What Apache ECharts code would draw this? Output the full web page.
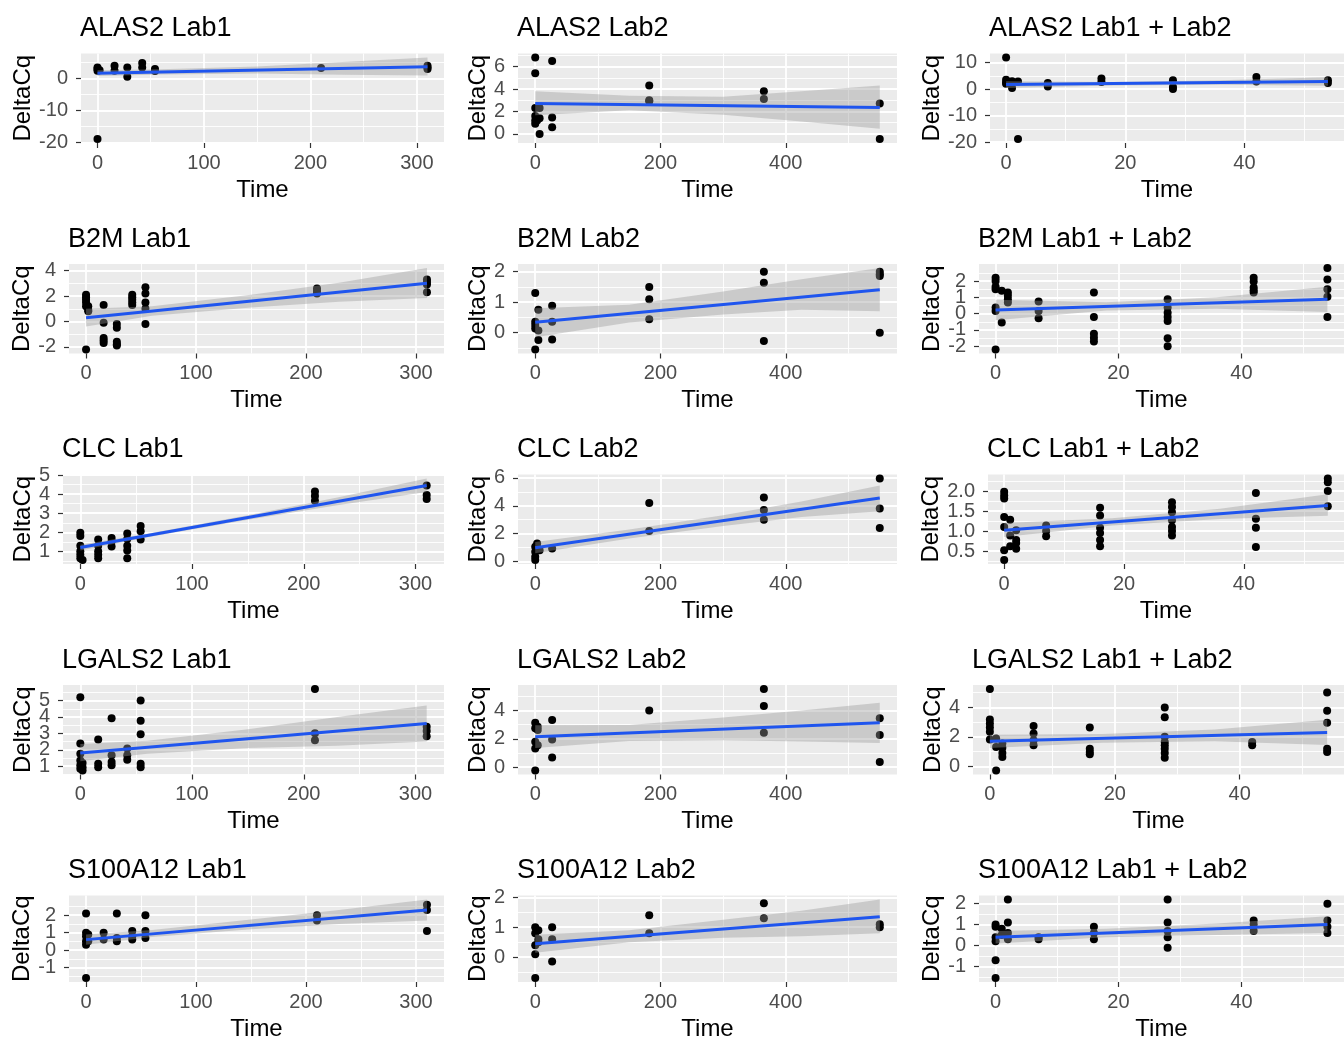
<!DOCTYPE html>
<html><head><meta charset="utf-8">
<script src="https://cdn.jsdelivr.net/npm/echarts@6/dist/echarts.min.js"></script>
<style>html,body{margin:0;padding:0;background:#fff}#c{width:1344px;height:1042px}</style>
</head><body><div id="c"></div>
<script>
// ---------- DATA ----------
const xTicksLab1 = [0, 100, 200, 300];
const xTicksLab2 = [0, 200, 400];
const xTicksBoth = [0, 20, 40];

const ptsALAS2Lab1 = [[0,3.5],[0,2.5],[0,3.0],[0,-18.9],[2,2.6],[16,4.0],[16,2.5],[28,3.5],[28,0.6],[42,4.9],[42,3.5],[54,3.0],[54,2.4],[210,3.3],[310,4.0],[310,3.5],[310,3.0]];
const fitALAS2Lab1 = [[0,1.7],[310,3.7]];
const bandALAS2Lab1 = [[0,0.8,2.6],[60,1.3,2.9],[150,1.6,3.8],[230,1.2,5.2],[310,1.0,6.6]];

const ptsALAS2Lab2 = [[0,6.8],[0,5.4],[0,2.3],[0,1.6],[0,1.2],[0,0.9],[3,1.2],[7,2.3],[7,1.4],[7,0.0],[27,6.5],[27,1.45],[27,0.6],[182,4.3],[182,3.0],[182,2.9],[365,3.8],[365,3.1],[550,2.7],[550,-0.45]];
const fitALAS2Lab2 = [[0,2.7],[550,2.35]];
const bandALAS2Lab2 = [[0,1.65,3.8],[150,2.1,3.4],[300,1.7,3.3],[425,1.1,3.8],[550,0.45,4.3]];

const ptsALAS2Both = [[0,11.9],[0,3.5],[0,2.5],[0,2.0],[1,3.0],[1,0.4],[2,2.9],[2,-18.8],[7,2.3],[7,1.0],[16,4.0],[16,2.7],[28,3.3],[28,0.8],[28,0.0],[42,4.6],[42,2.9],[54,3.3],[54,2.3]];
const fitALAS2Both = [[0,1.7],[54,2.9]];
const bandALAS2Both = [[0,0.4,3.0],[18,1.4,2.7],[36,1.6,3.3],[54,1.3,4.5]];

const ptsB2MLab1 = [[0,2.1],[0,1.9],[0,1.7],[0,1.5],[0,1.2],[0,-2.2],[2,1.2],[2,0.9],[2,0.8],[16,1.3],[16,-0.1],[16,-1.3],[16,-1.5],[16,-1.7],[28,-0.2],[28,-0.5],[28,-1.6],[28,-1.8],[28,-1.9],[42,2.1],[42,1.9],[42,1.7],[42,1.5],[42,1.3],[54,2.7],[54,2.2],[54,1.5],[54,1.0],[54,-0.2],[210,2.6],[210,2.4],[210,2.2],[310,3.3],[310,3.1],[310,2.9],[310,2.3]];
const fitB2MLab1 = [[0,0.3],[310,3.0]];
const bandB2MLab1 = [[0,-0.4,1.0],[60,0.45,1.2],[150,1.1,2.1],[230,1.55,3.05],[310,1.85,4.2]];

const ptsB2MLab2 = [[0,1.3],[0,0.36],[0,0.25],[0,0.14],[0,-0.55],[5,0.75],[5,0.07],[5,-0.24],[27,0.88],[27,0.36],[27,-0.22],[182,1.5],[182,1.1],[182,0.44],[365,2.0],[365,1.64],[365,-0.27],[550,2.0],[550,1.92],[550,1.86],[550,0.0]];
const fitB2MLab2 = [[0,0.34],[550,1.41]];
const bandB2MLab2 = [[0,-0.15,0.8],[150,0.33,0.92],[300,0.6,1.35],[425,0.75,1.75],[550,0.7,2.12]];

const ptsB2MBoth = [[0,2.2],[0,2.0],[0,1.65],[0,1.5],[0,0.37],[0,0.16],[0,-2.2],[1,1.4],[1,-0.55],[2,1.3],[2,1.1],[2,0.88],[2,0.68],[7,0.74],[7,0.16],[7,-0.29],[16,1.3],[16,-0.2],[16,-1.23],[16,-1.48],[16,-1.72],[28,0.88],[28,0.37],[28,0.06],[28,-0.2],[28,-0.45],[28,-1.52],[28,-2.0],[42,2.2],[42,1.97],[42,1.6],[42,1.44],[42,1.3],[54,2.8],[54,2.1],[54,1.5],[54,1.03],[54,-0.2]];
const fitB2MBoth = [[0,0.23],[54,0.88]];
const bandB2MBoth = [[0,-0.4,0.85],[18,0.2,0.7],[36,0.3,1.0],[54,0.1,1.65]];

const ptsCLCLab1 = [[0,1.97],[0,1.8],[0,1.3],[0,1.0],[0,0.82],[0,0.64],[2,0.55],[16,1.62],[16,1.3],[16,1.0],[16,0.82],[16,0.64],[28,1.7],[28,1.53],[28,1.26],[42,1.94],[42,1.65],[42,1.3],[42,1.05],[42,0.64],[54,2.33],[54,2.06],[54,1.62],[210,4.14],[210,3.9],[210,3.66],[310,4.46],[310,3.96],[310,3.75]];
const fitCLCLab1 = [[0,1.2],[310,4.46]];
const bandCLCLab1 = [[0,1.05,1.35],[60,1.74,1.92],[150,2.66,2.9],[230,3.42,3.82],[310,4.12,4.82]];

const ptsCLCLab2 = [[0,1.06],[0,0.7],[0,0.35],[0,0.12],[3,1.3],[3,1.06],[7,0.82],[27,0.94],[182,4.2],[182,2.2],[365,4.6],[365,3.7],[365,3.0],[550,5.95],[550,3.8],[550,2.4]];
const fitCLCLab2 = [[0,1.0],[550,4.55]];
const bandCLCLab2 = [[0,0.6,1.4],[150,1.65,2.3],[300,2.55,3.33],[425,3.2,4.3],[550,3.6,5.45]];

const ptsCLCBoth = [[0,1.98],[0,1.89],[0,1.81],[0,1.35],[0,1.1],[0,0.52],[0,0.28],[1,1.28],[1,0.89],[1,0.62],[2,1.02],[2,0.78],[2,0.7],[2,0.56],[7,1.14],[7,1.0],[7,0.87],[16,1.58],[16,1.39],[16,1.08],[16,0.95],[16,0.78],[16,0.62],[28,1.72],[28,1.6],[28,1.47],[28,1.27],[28,1.1],[28,1.0],[28,0.89],[42,1.95],[42,1.31],[42,1.08],[42,0.6],[54,2.31],[54,2.22],[54,2.0],[54,1.62]];
const fitCLCBoth = [[0,1.02],[54,1.64]];
const bandCLCBoth = [[0,0.85,1.2],[18,1.14,1.32],[36,1.3,1.56],[54,1.38,1.92]];

const ptsLGALS2Lab1 = [[0,5.2],[0,2.38],[0,1.76],[0,1.35],[0,1.05],[0,0.84],[2,1.2],[2,0.94],[2,0.74],[16,2.63],[16,1.15],[16,0.94],[28,3.92],[28,1.66],[28,1.25],[28,1.05],[42,2.07],[42,1.66],[42,1.39],[54,5.0],[54,3.77],[54,2.95],[54,1.15],[54,0.94],[210,5.7],[210,3.0],[210,2.58],[310,3.4],[310,3.14],[310,2.83]];
const fitLGALS2Lab1 = [[0,1.8],[310,3.6]];
const bandLGALS2Lab1 = [[0,1.3,2.35],[60,1.75,2.55],[150,2.1,3.25],[230,2.25,4.0],[310,2.5,4.7]];

const ptsLGALS2Lab2 = [[0,3.14],[0,2.74],[0,1.79],[0,1.31],[0,-0.24],[4,2.86],[4,2.62],[4,1.55],[27,3.33],[27,1.95],[27,0.67],[182,4.0],[365,5.52],[365,4.33],[365,2.43],[550,3.45],[550,2.26],[550,0.36]];
const fitLGALS2Lab2 = [[0,2.14],[550,3.14]];
const bandLGALS2Lab2 = [[0,1.35,2.95],[150,1.85,2.97],[300,1.9,3.5],[425,1.8,4.0],[550,1.7,4.55]];

const ptsLGALS2Both = [[0,5.23],[0,3.18],[0,2.9],[0,2.64],[0,2.34],[0,1.82],[1,1.89],[1,1.32],[1,-0.27],[2,1.55],[2,1.27],[2,0.91],[2,0.64],[7,2.73],[7,2.23],[7,1.77],[7,1.43],[16,2.64],[16,1.2],[16,0.98],[16,0.82],[28,3.98],[28,3.32],[28,2.0],[28,1.66],[28,1.43],[28,1.2],[28,0.91],[28,0.59],[42,1.66],[42,1.43],[54,5.0],[54,3.77],[54,2.95],[54,1.2],[54,0.98]];
const fitLGALS2Both = [[0,1.7],[54,2.3]];
const bandLGALS2Both = [[0,1.25,2.15],[18,1.6,2.2],[36,1.7,2.5],[54,1.45,3.15]];

const ptsS100A12Lab1 = [[0,2.1],[0,1.0],[0,0.8],[0,0.5],[0,0.3],[0,-1.6],[2,0.9],[2,0.5],[16,1.0],[16,0.6],[28,2.1],[28,0.7],[28,0.5],[42,1.1],[42,0.8],[42,0.6],[54,2.0],[54,1.1],[54,0.7],[210,2.0],[210,1.7],[310,2.6],[310,2.3],[310,1.1]];
const fitS100A12Lab1 = [[0,0.6],[310,2.3]];
const bandS100A12Lab1 = [[0,0.3,0.9],[60,0.75,1.15],[150,1.2,1.75],[230,1.5,2.3],[310,1.7,2.9]];

const ptsS100A12Lab2 = [[0,1.0],[0,0.8],[0,0.4],[0,0.1],[0,-0.7],[5,0.9],[5,0.6],[5,0.5],[27,1.0],[27,0.6],[27,-0.15],[182,1.4],[182,0.8],[365,1.8],[365,1.3],[550,1.1],[550,1.0]];
const fitS100A12Lab2 = [[0,0.45],[550,1.35]];
const bandS100A12Lab2 = [[0,0.15,0.75],[150,0.5,0.9],[300,0.65,1.25],[425,0.7,1.55],[550,0.8,1.93]];

const ptsS100A12Both = [[0,1.0],[0,0.9],[0,0.4],[0,0.2],[0,-0.7],[0,-1.55],[1,0.8],[1,0.5],[2,2.2],[2,1.1],[2,0.6],[2,0.3],[7,0.4],[7,0.3],[16,0.9],[16,0.6],[16,0.3],[28,2.2],[28,1.1],[28,0.7],[28,0.4],[28,-0.1],[42,1.2],[42,1.0],[42,0.7],[54,2.0],[54,1.2],[54,0.9],[54,0.6]];
const fitS100A12Both = [[0,0.4],[54,1.0]];
const bandS100A12Both = [[0,0.1,0.7],[18,0.4,0.8],[36,0.5,1.05],[54,0.6,1.4]];

const panels = [
  {title:'ALAS2 Lab1', pts:ptsALAS2Lab1, fit:fitALAS2Lab1, band:bandALAS2Lab1, xTicks:xTicksLab1, yTicks:[-20,-10,0]},
  {title:'ALAS2 Lab2', pts:ptsALAS2Lab2, fit:fitALAS2Lab2, band:bandALAS2Lab2, xTicks:xTicksLab2, yTicks:[0,2,4,6]},
  {title:'ALAS2 Lab1 + Lab2', pts:ptsALAS2Both, fit:fitALAS2Both, band:bandALAS2Both, xTicks:xTicksBoth, yTicks:[-20,-10,0,10]},
  {title:'B2M Lab1', pts:ptsB2MLab1, fit:fitB2MLab1, band:bandB2MLab1, xTicks:xTicksLab1, yTicks:[-2,0,2,4]},
  {title:'B2M Lab2', pts:ptsB2MLab2, fit:fitB2MLab2, band:bandB2MLab2, xTicks:xTicksLab2, yTicks:[0,1,2]},
  {title:'B2M Lab1 + Lab2', pts:ptsB2MBoth, fit:fitB2MBoth, band:bandB2MBoth, xTicks:xTicksBoth, yTicks:[-2,-1,0,1,2]},
  {title:'CLC Lab1', pts:ptsCLCLab1, fit:fitCLCLab1, band:bandCLCLab1, xTicks:xTicksLab1, yTicks:[1,2,3,4,5]},
  {title:'CLC Lab2', pts:ptsCLCLab2, fit:fitCLCLab2, band:bandCLCLab2, xTicks:xTicksLab2, yTicks:[0,2,4,6]},
  {title:'CLC Lab1 + Lab2', pts:ptsCLCBoth, fit:fitCLCBoth, band:bandCLCBoth, xTicks:xTicksBoth, yTicks:[0.5,1.0,1.5,2.0], dec:1},
  {title:'LGALS2 Lab1', pts:ptsLGALS2Lab1, fit:fitLGALS2Lab1, band:bandLGALS2Lab1, xTicks:xTicksLab1, yTicks:[1,2,3,4,5]},
  {title:'LGALS2 Lab2', pts:ptsLGALS2Lab2, fit:fitLGALS2Lab2, band:bandLGALS2Lab2, xTicks:xTicksLab2, yTicks:[0,2,4]},
  {title:'LGALS2 Lab1 + Lab2', pts:ptsLGALS2Both, fit:fitLGALS2Both, band:bandLGALS2Both, xTicks:xTicksBoth, yTicks:[0,2,4]},
  {title:'S100A12 Lab1', pts:ptsS100A12Lab1, fit:fitS100A12Lab1, band:bandS100A12Lab1, xTicks:xTicksLab1, yTicks:[-1,0,1,2]},
  {title:'S100A12 Lab2', pts:ptsS100A12Lab2, fit:fitS100A12Lab2, band:bandS100A12Lab2, xTicks:xTicksLab2, yTicks:[0,1,2]},
  {title:'S100A12 Lab1 + Lab2', pts:ptsS100A12Both, fit:fitS100A12Both, band:bandS100A12Both, xTicks:xTicksBoth, yTicks:[-1,0,1,2]}
];

// ---------- LAYOUT ----------
const panelLeft = [81, 518, 990, 69, 518, 979, 63, 518, 988, 63, 518, 973, 69, 518, 979];
const colRight = [444, 897, 1355];
const yNameCenter = [23, 478, 934];
const rowTop0 = 53.5, rowStep = 210.5, plotH = 89.5;
const FONT = "'Liberation Sans', Arial, sans-serif";

function minorOf(ticks, lo, hi) {
  const step = ticks.length > 1 ? ticks[1] - ticks[0] : 1;
  const out = [];
  let v = ticks[0] - step / 2;
  while (v >= lo) { out.push(v); v -= step; }
  for (let k = 0; k < ticks.length - 1; k++) out.push((ticks[k] + ticks[k + 1]) / 2);
  v = ticks[ticks.length - 1] + step / 2;
  while (v <= hi) { out.push(v); v += step; }
  return out;
}

const option = { animation: false, title: [], grid: [], xAxis: [], yAxis: [], series: [] };
const NY = 3; // y axes per panel: main, minor grid, second label set

panels.forEach((p, i) => {
  const r = Math.floor(i / 3), c = i % 3;
  const left = panelLeft[i], right = colRight[c];
  const top = rowTop0 + r * rowStep;
  const xmax = Math.max(...p.pts.map(d => d[0]));
  const xr = [-0.05 * xmax, 1.05 * xmax];
  const ys = p.pts.map(d => d[1]).concat(p.band.map(b => b[1]), p.band.map(b => b[2]));
  const y0 = Math.min(...ys), y1 = Math.max(...ys), e = (y1 - y0) * 0.05;
  const yr = [y0 - e, y1 + e];

  option.title.push({ text: p.title, left: left - 1, top: top - 38, padding: 0,
    textStyle: { fontSize: 27, fontWeight: 'normal', color: '#000', fontFamily: FONT } });
  option.grid.push({ left: left, top: top, width: right - left, height: plotH, show: true,
    backgroundColor: '#EBEBEB', borderWidth: 0, containLabel: false });

  const commonLbl = { color: '#4D4D4D', fontSize: 20, fontFamily: FONT,
    showMinLabel: true, showMaxLabel: true, hideOverlap: false };
  const fmt = v => p.dec ? v.toFixed(p.dec) : String(v);
  const evenTicks = p.yTicks.filter((v, k) => k % 2 === 0);
  const oddTicks = p.yTicks.filter((v, k) => k % 2 === 1);

  option.xAxis.push({ gridIndex: i, type: 'value', min: xr[0], max: xr[1], position: 'bottom',
    axisLine: { show: false, onZero: false },
    axisTick: { show: true, length: 5, customValues: p.xTicks, lineStyle: { color: '#333', width: 1.2 } },
    axisLabel: Object.assign({ customValues: p.xTicks, margin: 10 }, commonLbl),
    splitLine: { show: true, lineStyle: { color: '#FFFFFF', width: 1.8 } },
    name: 'Time', nameLocation: 'middle', nameGap: 35,
    nameTextStyle: { fontSize: 24, color: '#000', fontFamily: FONT } });
  option.xAxis.push({ gridIndex: i, type: 'value', min: xr[0], max: xr[1], position: 'bottom',
    axisLine: { show: false, onZero: false }, axisLabel: { show: false },
    axisTick: { show: false, customValues: minorOf(p.xTicks, xr[0], xr[1]) },
    splitLine: { show: true, lineStyle: { color: '#FFFFFF', width: 0.9 } } });

  option.yAxis.push({ gridIndex: i, type: 'value', min: yr[0], max: yr[1], position: 'left',
    axisLine: { show: false, onZero: false },
    axisTick: { show: true, length: 5, customValues: p.yTicks, lineStyle: { color: '#333', width: 1.2 } },
    axisLabel: Object.assign({ customValues: evenTicks, margin: 13, formatter: fmt }, commonLbl),
    splitLine: { show: true, lineStyle: { color: '#FFFFFF', width: 1.8 } },
    name: 'DeltaCq', nameLocation: 'middle', nameGap: left - yNameCenter[c] - 12,
    nameTextStyle: { fontSize: 24, color: '#000', fontFamily: FONT } });
  option.yAxis.push({ gridIndex: i, type: 'value', min: yr[0], max: yr[1], position: 'left',
    axisLine: { show: false, onZero: false }, axisLabel: { show: false },
    axisTick: { show: false, customValues: minorOf(p.yTicks, yr[0], yr[1]) },
    splitLine: { show: true, lineStyle: { color: '#FFFFFF', width: 0.9 } } });
  option.yAxis.push({ gridIndex: i, type: 'value', min: yr[0], max: yr[1], position: 'left', offset: 0,
    axisLine: { show: false, onZero: false },
    axisTick: { show: false, customValues: oddTicks.length ? oddTicks : [yr[0] - 1] },
    axisLabel: Object.assign({ show: oddTicks.length > 0, customValues: oddTicks.length ? oddTicks : [yr[0] - 1],
      margin: 13, formatter: fmt }, commonLbl),
    splitLine: { show: false } });

  const band = p.band;
  const yi = NY * i;
  option.series.push({ type: 'scatter', xAxisIndex: 2 * i, yAxisIndex: yi, data: p.pts,
    symbolSize: 8, itemStyle: { color: '#000', opacity: 1 }, z: 2, silent: true, clip: false });
  option.series.push({ type: 'custom', coordinateSystem: 'cartesian2d', xAxisIndex: 2 * i, yAxisIndex: yi,
    data: [[band[0][0], band[0][1]]], z: 3, silent: true,
    renderItem: (params, api) => {
      const up = band.map(b => api.coord([b[0], b[2]]));
      const lo = band.slice().reverse().map(b => api.coord([b[0], b[1]]));
      return { type: 'polygon', shape: { points: up.concat(lo) }, style: { fill: 'rgba(153,153,153,0.4)' } };
    } });
  option.series.push({ type: 'line', xAxisIndex: 2 * i, yAxisIndex: yi, data: p.fit,
    showSymbol: false, lineStyle: { color: '#1F55EE', width: 3 }, z: 4, silent: true });
});

const chart = echarts.init(document.getElementById('c'), null, { renderer: 'canvas' });
chart.setOption(option);
</script></body></html>
